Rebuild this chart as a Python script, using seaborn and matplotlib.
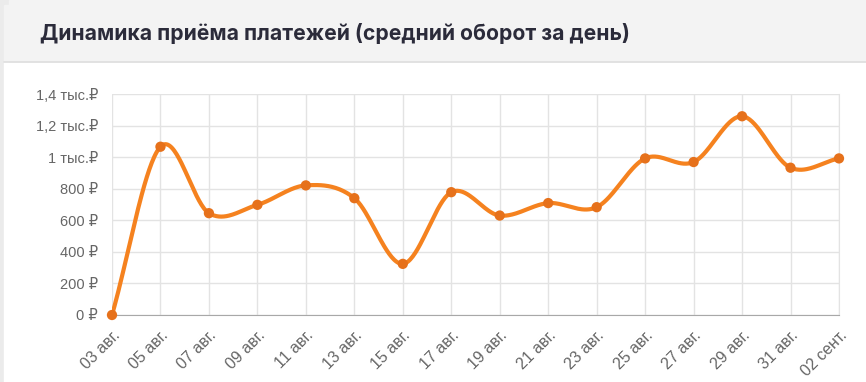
import numpy as np
import pandas as pd
import seaborn as sns
import matplotlib.pyplot as plt
from matplotlib.patches import Rectangle
from matplotlib.lines import Line2D

sns.set_style("white")
plt.rcParams["font.family"] = ["Liberation Sans", "DejaVu Sans"]

# data
days = ["03 авг.", "05 авг.", "07 авг.", "09 авг.", "11 авг.", "13 авг.", "15 авг.",
        "17 авг.", "19 авг.", "21 авг.", "23 авг.", "25 авг.", "27 авг.", "29 авг.",
        "31 авг.", "02 сент."]
turnover = [0, 1066, 645, 698, 821, 740, 324, 778, 630, 709, 683, 992, 969, 1259, 933, 992]
y_ticks = [0, 200, 400, 600, 800, 1000, 1200, 1400]
y_labels = ["0 ₽", "200 ₽", "400 ₽", "600 ₽", "800 ₽", "1 тыс.₽", "1,2 тыс.₽", "1,4 тыс.₽"]

df = pd.DataFrame({"i": np.arange(len(days)), "day": days, "value": turnover})

# smooth curve through the points (Catmull-Rom style hermite)
y = np.array(turnover, dtype=float)
n = len(y)
m = np.zeros(n)
m[1:-1] = (y[2:] - y[:-2]) / 2
m[0] = y[1] - y[0]
m[-1] = y[-1] - y[-2]
xs, ys = [], []
for k in range(n - 1):
    t = np.linspace(0, 1, 40)
    h00 = 2 * t**3 - 3 * t**2 + 1
    h10 = t**3 - 2 * t**2 + t
    h01 = -2 * t**3 + 3 * t**2
    h11 = t**3 - t**2
    xs.append(k + t)
    ys.append(h00 * y[k] + h10 * m[k] + h01 * y[k + 1] + h11 * m[k + 1])
curve = pd.DataFrame({"x": np.concatenate(xs), "y": np.concatenate(ys)})

fig = plt.figure(figsize=(8.66, 3.82), dpi=100)
fig.patch.set_facecolor("white")

# card header and left border
fig.add_artist(Rectangle((0, 0), 1, 1, transform=fig.transFigure, color="#ebebeb", zorder=-3))
fig.add_artist(Rectangle((4 / 866, 0), 1, 320 / 382, transform=fig.transFigure,
                         color="white", zorder=-2))
fig.add_artist(Rectangle((9 / 866, 321 / 382), 1, 61 / 382, transform=fig.transFigure,
                         color="#f3f3f3", zorder=-2))
fig.add_artist(Rectangle((4 / 866, 321 / 382), 1, 56 / 382, transform=fig.transFigure,
                         color="#f3f3f3", zorder=-2))
fig.add_artist(Line2D([4 / 866, 1], [320.5 / 382, 320.5 / 382], transform=fig.transFigure,
                      color="#dedede", lw=1.2, zorder=-1))
fig.text(40 / 866, 1 - 33 / 382, "Динамика приёма платежей (средний оборот за день)",
         fontsize=15.2, fontweight="bold", color="#2b2b3a", va="center",
         family=["Inter", "DejaVu Sans"])

ax = fig.add_axes([112 / 866, 1 - 315 / 382, (839 - 112) / 866, (315 - 94) / 382])
sns.lineplot(data=curve, x="x", y="y", ax=ax, color="#f5821f", lw=3.0, zorder=3)
sns.scatterplot(data=df, x="i", y="value", ax=ax, color="#e6711b", s=55,
                edgecolor="none", zorder=4, clip_on=False)

ax.set_xlim(0, n - 1)
ax.set_ylim(0, 1400)
ax.set_xticks(df["i"])
ax.set_xticklabels(days, rotation=45, ha="right", rotation_mode="anchor",
                   fontsize=11.5, color="#666666")
ax.set_yticks(y_ticks)
ax.set_yticklabels(y_labels, fontsize=10.5, color="#666666")
ax.grid(True, color="#e3e3e3", lw=1)
ax.set_axisbelow(True)
for s in ["top", "left"]:
    ax.spines[s].set_visible(False)
ax.spines["right"].set_color("#e3e3e3")
ax.spines["bottom"].set_color("#a8a8a8")
ax.tick_params(axis="x", length=6, color="#e3e3e3", pad=3)
ax.tick_params(axis="y", length=12, color="#d0d0d0", pad=-2)
ax.set_xlabel("")
ax.set_ylabel("")

plt.savefig("out.png", dpi=100)
plt.close()
